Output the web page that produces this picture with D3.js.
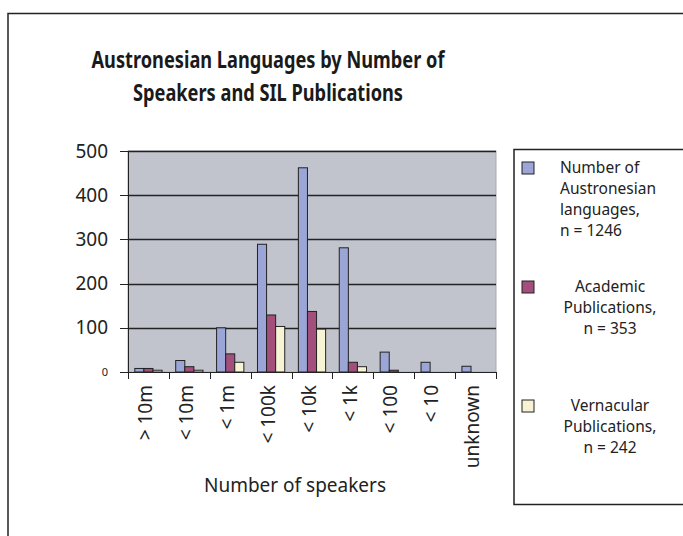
<!DOCTYPE html>
<html lang="en">
<head>
<meta charset="UTF-8">
<title>Austronesian Languages</title>
<style>
    body { margin: 0; background: #fff; }
    svg { display: block; font-family: "Noto Sans", sans-serif; }
    .axis path, .axis line { stroke: #222; shape-rendering: crispEdges; }
    .grid line { stroke: #222; stroke-width: 1.3; }
    .bar { stroke: #222; stroke-width: 1; }
</style>
</head>
<body>
<div id="sv"></div>
<script src="https://d3js.org/d3.v7.min.js"></script>
<script>
    // data
    var categories = ["> 10m", "< 10m", "< 1m", "< 100k", "< 10k", "< 1k", "< 100", "< 10", "unknown"];
    var languages  = [8, 26, 100, 289, 462, 281, 45, 22, 13];
    var academic   = [8, 12, 41, 129, 137, 22, 4, 0, 0];
    var vernacular = [4, 4, 22, 103, 97, 12, 0, 0, 0];
    var seriesNames = [
        ["Number of", "Austronesian", "languages,", "n = 1246"],
        ["Academic", "Publications,", "n = 353"],
        ["Vernacular", "Publications,", "n = 242"]
    ];
    var colors = ["#9ba6d6", "#a24f7b", "#f6f4d4"];
    var yTicks = [0, 100, 200, 300, 400, 500];

    var W = 683, H = 536;
    var margin = {top: 151, left: 128},
        width = 368,
        height = 221;

    var svg = d3.select("#sv").append("svg")
        .attr("width", W)
        .attr("height", H);

    // outer chart border (runs off the picture right and bottom)
    svg.append("rect")
        .attr("x", 8).attr("y", 13.5)
        .attr("width", 800).attr("height", 600)
        .attr("fill", "none")
        .attr("stroke", "#222").attr("stroke-width", 1.5);

    // title
    var title = svg.append("text")
        .attr("text-anchor", "middle")
        .attr("font-weight", "bold")
        .attr("font-size", 23)
        .attr("fill", "#1a1a1a");
    title.append("tspan").attr("x", 268).attr("y", 68)
        .attr("textLength", 353).attr("lengthAdjust", "spacingAndGlyphs")
        .text("Austronesian Languages by Number of");
    title.append("tspan").attr("x", 268).attr("y", 101)
        .attr("textLength", 270).attr("lengthAdjust", "spacingAndGlyphs")
        .text("Speakers and SIL Publications");

    var g = svg.append("g")
        .attr("transform", `translate(${margin.left},${margin.top})`);

    var x0 = d3.scaleBand().domain(categories).range([0, width])
        .paddingInner(1/3).paddingOuter(1/6);
    var x1 = d3.scaleBand().domain([0, 1, 2]).range([0, x0.bandwidth()]);
    var y = d3.scaleLinear().domain([0, 500]).range([height, 0]);

    // plot area
    g.append("rect")
        .attr("width", width).attr("height", height)
        .attr("fill", "#c1c4cc")
        .attr("stroke", "#a9abb2");

    // gridlines
    g.append("g").attr("class", "grid")
        .selectAll("line").data(yTicks.filter(d => d > 0))
        .enter().append("line")
        .attr("x1", 0).attr("x2", width)
        .attr("y1", d => Math.round(y(d)) + 0.5).attr("y2", d => Math.round(y(d)) + 0.5);

    // bars
    var series = [languages, academic, vernacular];
    var groups = g.selectAll(".grp").data(categories)
        .enter().append("g")
        .attr("class", "grp")
        .attr("transform", d => `translate(${x0(d)},0)`);

    groups.selectAll("rect")
        .data((d, i) => series.map((s, k) => ({k: k, v: s[i]})).filter(e => e.v > 0))
        .enter().append("rect")
        .attr("class", "bar")
        .attr("x", d => x1(d.k))
        .attr("width", x1.bandwidth())
        .attr("y", d => y(d.v))
        .attr("height", d => y(0) - y(d.v))
        .attr("fill", d => colors[d.k]);

    // y axis
    var yAxis = g.append("g").attr("class", "axis")
        .call(d3.axisLeft(y).tickValues(yTicks).tickSize(8).tickPadding(12).tickSizeOuter(0));
    yAxis.selectAll("text")
        .attr("font-family", "Noto Sans, sans-serif")
        .attr("font-size", d => d === 0 ? 11 : 19)
        .attr("fill", "#222");
    yAxis.select(".domain").attr("stroke-width", 1.5);

    // x axis: labels at band centres, ticks on the band boundaries
    var xAxis = g.append("g").attr("class", "axis")
        .attr("transform", `translate(0,${height})`)
        .call(d3.axisBottom(x0).tickSize(0).tickSizeOuter(0));
    xAxis.select(".domain").attr("stroke-width", 1.5);
    xAxis.selectAll("text")
        .attr("font-family", "Noto Sans, sans-serif")
        .attr("font-size", 19)
        .attr("fill", "#222")
        .attr("text-anchor", "end")
        .attr("transform", "rotate(-90)")
        .attr("x", -13)
        .attr("y", -3)
        .attr("dy", "0.35em");

    var bounds = categories.map(c => x0(c) - x0.step() * x0.paddingInner() / 2).concat([width]);
    xAxis.selectAll(".bnd").data(bounds)
        .enter().append("line")
        .attr("class", "bnd")
        .attr("x1", d => Math.round(d) + 0.5).attr("x2", d => Math.round(d) + 0.5)
        .attr("y1", 0).attr("y2", 7)
        .attr("stroke", "#222");

    // axis title
    svg.append("text")
        .attr("x", 295).attr("y", 492)
        .attr("text-anchor", "middle")
        .attr("font-size", 19)
        .attr("fill", "#222")
        .text("Number of speakers");

    // legend
    svg.append("rect")
        .attr("x", 514).attr("y", 149.5)
        .attr("width", 300).attr("height", 355)
        .attr("fill", "#fff")
        .attr("stroke", "#222").attr("stroke-width", 1.5);

    var legendTop = [162, 281, 400];
    var lg = svg.selectAll(".lg").data(seriesNames)
        .enter().append("g")
        .attr("class", "lg")
        .attr("transform", (d, i) => `translate(522,${legendTop[i]})`);
    lg.append("rect")
        .attr("width", 12).attr("height", 12)
        .attr("fill", (d, i) => colors[i])
        .attr("stroke", "#222");
    lg.append("text")
        .attr("font-size", 15.5)
        .attr("fill", "#222")
        .attr("text-anchor", (d, i) => i === 0 ? "start" : "middle")
        .each(function(d, i) {
            var t = d3.select(this);
            d.forEach((line, j) => {
                t.append("tspan")
                    .attr("x", i === 0 ? 38 : 88)
                    .attr("y", 11 + j * 21)
                    .text(line);
            });
        });
</script>
</body>
</html>
